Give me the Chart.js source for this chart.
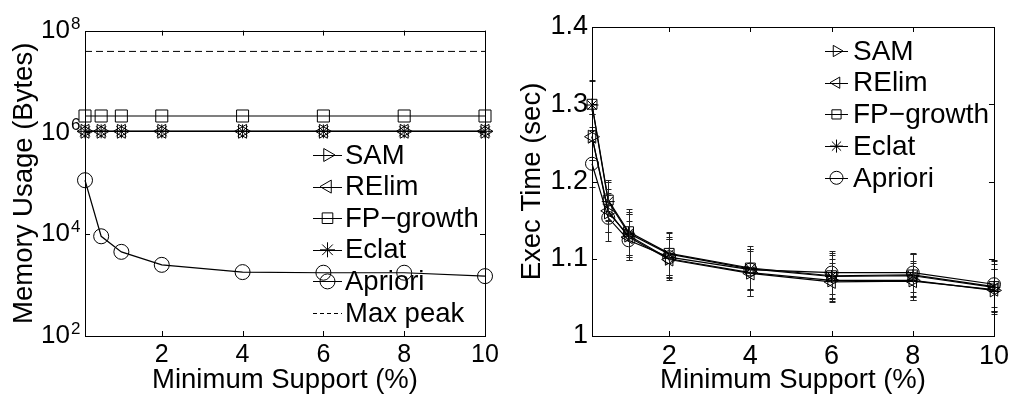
<!DOCTYPE html>
<html>
<head>
<meta charset="utf-8">
<script src="https://cdn.jsdelivr.net/npm/chart.js@4.4.1/dist/chart.umd.min.js"></script>
<style>
html,body{margin:0;padding:0;background:#fff;}
#wrap{position:relative;width:1013px;height:397px;overflow:hidden;}
canvas{position:absolute;top:0;}
</style>
</head>
<body>
<div id="wrap">
<canvas id="mem" width="506" height="397" style="left:0;width:506px;height:397px"></canvas>
<canvas id="time" width="507" height="397" style="left:506px;width:507px;height:397px"></canvas>
</div>
<script>
// ---------- data ----------
const minSupport = [0.1, 0.5, 1, 2, 4, 6, 8, 10];
const seriesNames = ['SAM', 'RElim', 'FP-growth', 'Eclat', 'Apriori'];

// Memory usage (Bytes)
const memSAM      = [1.05e6, 1.05e6, 1.05e6, 1.05e6, 1.05e6, 1.05e6, 1.05e6, 1.05e6];
const memRElim    = [1.05e6, 1.05e6, 1.05e6, 1.05e6, 1.05e6, 1.05e6, 1.05e6, 1.05e6];
const memFPgrowth = [2.1e6, 2.1e6, 2.1e6, 2.1e6, 2.1e6, 2.1e6, 2.1e6, 2.1e6];
const memEclat    = [1.05e6, 1.05e6, 1.05e6, 1.05e6, 1.05e6, 1.05e6, 1.05e6, 1.05e6];
const memApriori  = [1.15e5, 9.1e3, 4.5e3, 2.5e3, 1.8e3, 1.75e3, 1.75e3, 1.5e3];
const maxPeakX    = [0.1, 10];
const maxPeak     = [3.9e7, 3.9e7];

// Execution time (sec)
const timeSAM      = [1.258, 1.160, 1.130, 1.100, 1.082, 1.072, 1.072, 1.059];
const timeRElim    = [1.258, 1.162, 1.128, 1.099, 1.081, 1.070, 1.071, 1.060];
const timeFPgrowth = [1.300, 1.176, 1.135, 1.107, 1.088, 1.078, 1.079, 1.064];
const timeEclat    = [1.299, 1.174, 1.133, 1.106, 1.087, 1.077, 1.078, 1.063];
const timeApriori  = [1.223, 1.153, 1.124, 1.102, 1.086, 1.082, 1.082, 1.067];
const errSAM      = [0.030, 0.025, 0.028, 0.025, 0.030, 0.028, 0.025, 0.028];
const errRElim    = [0.030, 0.028, 0.030, 0.027, 0.029, 0.025, 0.024, 0.027];
const errFPgrowth = [0.030, 0.026, 0.030, 0.028, 0.028, 0.030, 0.027, 0.035];
const errEclat    = [0.032, 0.025, 0.028, 0.027, 0.026, 0.028, 0.028, 0.030];
const errApriori  = [0.030, 0.030, 0.025, 0.026, 0.026, 0.028, 0.025, 0.030];

// ticks
const xTickValues    = [2, 4, 6, 8, 10];
const memTickValues  = [1e2, 1e4, 1e6, 1e8];
const timeTickValues = [1, 1.1, 1.2, 1.3, 1.4];

// ---------- styles ----------
const FONT = '"Liberation Sans", Arial, Helvetica, sans-serif';
const memMarkers = {
  'SAM':       {pointStyle: 'triangle', rotation: 90,  radius: 8},
  'RElim':     {pointStyle: 'triangle', rotation: -90, radius: 8},
  'FP-growth': {pointStyle: 'rect',     rotation: 0,   radius: 8.5},
  'Eclat':     {pointStyle: 'star',     rotation: 0,   radius: 7},
  'Apriori':   {pointStyle: 'circle',   rotation: 0,   radius: 7.5}
};
const timeMarkers = {
  'SAM':       {pointStyle: 'triangle', rotation: 90,  radius: 7.5},
  'RElim':     {pointStyle: 'triangle', rotation: -90, radius: 7.5},
  'FP-growth': {pointStyle: 'rect',     rotation: 0,   radius: 7},
  'Eclat':     {pointStyle: 'star',     rotation: 0,   radius: 6.5},
  'Apriori':   {pointStyle: 'circle',   rotation: 0,   radius: 6.5}
};

function drawMarker(ctx, style, x, y, r) {
  ctx.save();
  ctx.beginPath();
  const rad = (style.rotation || 0) * Math.PI / 180;
  switch (style.pointStyle) {
    case 'triangle': {
      let a = rad;
      ctx.moveTo(x + Math.sin(a) * r, y - Math.cos(a) * r);
      a += 2 * Math.PI / 3;
      ctx.lineTo(x + Math.sin(a) * r, y - Math.cos(a) * r);
      a += 2 * Math.PI / 3;
      ctx.lineTo(x + Math.sin(a) * r, y - Math.cos(a) * r);
      ctx.closePath();
      break;
    }
    case 'rect': {
      const s = Math.SQRT1_2 * r;
      ctx.rect(x - s, y - s, 2 * s, 2 * s);
      break;
    }
    case 'star': {
      for (let k = 0; k < 4; k++) {
        const a = k * Math.PI / 4;
        ctx.moveTo(x + Math.cos(a) * r, y + Math.sin(a) * r);
        ctx.lineTo(x - Math.cos(a) * r, y - Math.sin(a) * r);
      }
      break;
    }
    default:
      ctx.arc(x, y, r, 0, Math.PI * 2);
  }
  ctx.stroke();
  ctx.restore();
}

function seriesDataset(markers, name, values, errs) {
  const st = markers[name];
  return {
    label: name,
    data: minSupport.map((x, i) => ({x: x, y: values[i]})),
    errors: errs,
    borderColor: '#000',
    borderWidth: 1.2,
    pointStyle: st.pointStyle,
    pointRotation: st.rotation,
    pointRadius: st.radius,
    pointHoverRadius: st.radius,
    pointBorderWidth: 1,
    pointBorderColor: '#000',
    pointBackgroundColor: 'rgba(0,0,0,0)',
    tension: 0,
    clip: false
  };
}

// plugin: frame, inward ticks, error bars, legend, superscripts
const decorPlugin = {
  id: 'decor',
  afterDatasetsDraw(chart) {
    const ctx = chart.ctx;
    const xs = chart.scales.x, ys = chart.scales.y;
    chart.data.datasets.forEach(ds => {
      if (!ds.errors) return;
      ctx.save();
      ctx.strokeStyle = '#222';
      ctx.lineWidth = 1;
      ds.data.forEach((p, i) => {
        const e = ds.errors[i];
        const px = Math.round(xs.getPixelForValue(p.x)) + 0.5;
        const yt = Math.round(ys.getPixelForValue(p.y + e)) + 0.5;
        const yb = Math.round(ys.getPixelForValue(p.y - e)) + 0.5;
        ctx.beginPath();
        ctx.moveTo(px, yt); ctx.lineTo(px, yb);
        ctx.moveTo(px - 3, yt); ctx.lineTo(px + 3, yt);
        ctx.moveTo(px - 3, yb); ctx.lineTo(px + 3, yb);
        ctx.stroke();
      });
      ctx.restore();
    });
  },
  afterDraw(chart, args, opts) {
    const ctx = chart.ctx;
    const a = chart.chartArea;
    const xs = chart.scales.x, ys = chart.scales.y;
    ctx.save();
    ctx.strokeStyle = '#000';
    ctx.lineWidth = 1;
    ctx.strokeRect(Math.round(a.left) + 0.5, Math.round(a.top) + 0.5,
                   Math.round(a.right - a.left), Math.round(a.bottom - a.top));
    ctx.beginPath();
    const tl = 5;
    xs.ticks.forEach(t => {
      const px = Math.round(xs.getPixelForValue(t.value)) + 0.5;
      ctx.moveTo(px, a.bottom); ctx.lineTo(px, a.bottom - tl);
      ctx.moveTo(px, a.top); ctx.lineTo(px, a.top + tl);
    });
    ys.ticks.forEach(t => {
      const py = Math.round(ys.getPixelForValue(t.value)) + 0.5;
      ctx.moveTo(a.left, py); ctx.lineTo(a.left + tl, py);
      ctx.moveTo(a.right, py); ctx.lineTo(a.right - tl, py);
    });
    ctx.stroke();

    // superscript exponents on log axis
    if (opts.superscript) {
      const labelRight = ys.right - ys.options.ticks.padding;
      ctx.font = opts.supSize + 'px ' + FONT;
      ctx.fillStyle = '#000';
      ctx.textAlign = 'left';
      ctx.textBaseline = 'alphabetic';
      ys.ticks.forEach(t => {
        const py = ys.getPixelForValue(t.value);
        const exp = String(Math.round(Math.log10(t.value)));
        ctx.fillText(exp, labelRight + 1, py - 2);
      });
    }

    // legend
    const lg = opts.legend;
    ctx.font = lg.fontSize + 'px ' + FONT;
    ctx.fillStyle = '#000';
    ctx.textAlign = 'left';
    ctx.textBaseline = 'middle';
    lg.items.forEach((it, k) => {
      const y = lg.top + k * lg.step;
      ctx.beginPath();
      ctx.setLineDash(it.dash || []);
      ctx.moveTo(lg.x1, Math.round(y) + 0.5);
      ctx.lineTo(lg.x2, Math.round(y) + 0.5);
      ctx.stroke();
      ctx.setLineDash([]);
      if (it.marker) drawMarker(ctx, lg.markers[it.name], (lg.x1 + lg.x2) / 2, y, lg.markerR);
      ctx.fillText(it.label, lg.textX, y + 1);
    });
    ctx.restore();
  }
};

function commonOptions(cfg) {
  return {
    responsive: false,
    animation: false,
    events: [],
    layout: {padding: {top: 27, right: cfg.rightPad, left: 0, bottom: 0}},
    plugins: {
      legend: {display: false},
      tooltip: {enabled: false},
      decor: cfg.decor
    },
    scales: {
      x: {
        type: 'linear',
        min: 0.1, max: 10,
        afterBuildTicks: s => { s.ticks = xTickValues.map(v => ({value: v})); },
        afterFit: s => { s.height = 61; },
        grid: {display: false, drawTicks: false},
        border: {display: false},
        ticks: {
          color: '#000',
          padding: cfg.xTickPad,
          maxRotation: 0,
          autoSkip: false,
          font: {family: FONT, size: cfg.tickSize},
          callback: v => String(v)
        },
        title: {
          display: true,
          text: 'Minimum Support (%)',
          color: '#000',
          font: {family: FONT, size: cfg.titleSize},
          padding: {top: 0, bottom: cfg.xTitlePad}
        }
      },
      y: cfg.y
    }
  };
}

// ---------- memory chart ----------
const memDatasets = [
  seriesDataset(memMarkers, 'SAM', memSAM),
  seriesDataset(memMarkers, 'RElim', memRElim),
  seriesDataset(memMarkers, 'FP-growth', memFPgrowth),
  seriesDataset(memMarkers, 'Eclat', memEclat),
  seriesDataset(memMarkers, 'Apriori', memApriori),
  {
    label: 'Max peak',
    data: maxPeakX.map((x, i) => ({x: x, y: maxPeak[i]})),
    borderColor: '#000',
    borderWidth: 1,
    borderDash: [7, 4],
    pointRadius: 0,
    tension: 0,
    clip: false
  }
];

new Chart(document.getElementById('mem'), {
  type: 'line',
  data: {datasets: memDatasets},
  plugins: [decorPlugin],
  options: commonOptions({
    rightPad: 21,
    tickSize: 25,
    titleSize: 27.5,
    xTickPad: 4,
    xTitlePad: 0,
    decor: {
      superscript: true,
      supSize: 17,
      legend: {
        x1: 313, x2: 342, textX: 345, top: 155, step: 31.6, fontSize: 27.5, markerR: 7.5,
        markers: memMarkers,
        items: [
          {name: 'SAM', label: 'SAM', marker: true},
          {name: 'RElim', label: 'RElim', marker: true},
          {name: 'FP-growth', label: 'FP\u2212growth', marker: true},
          {name: 'Eclat', label: 'Eclat', marker: true},
          {name: 'Apriori', label: 'Apriori', marker: true},
          {name: 'Max peak', label: 'Max peak', marker: false, dash: [4, 3]}
        ]
      }
    },
    y: {
      type: 'logarithmic',
      min: 1e2, max: 1e8,
      afterBuildTicks: s => { s.ticks = memTickValues.map(v => ({value: v})); },
      afterFit: s => { s.width = 85; },
      grid: {display: false, drawTicks: false},
      border: {display: false},
      ticks: {
        color: '#000',
        padding: 15,
        autoSkip: false,
        font: {family: FONT, size: 26},
        callback: () => '10'
      },
      title: {
        display: true,
        text: 'Memory Usage (Bytes)',
        color: '#000',
        font: {family: FONT, size: 27.5},
        padding: {top: 8, bottom: 0}
      }
    }
  })
});

// ---------- time chart ----------
const timeDatasets = [
  seriesDataset(timeMarkers, 'SAM', timeSAM, errSAM),
  seriesDataset(timeMarkers, 'RElim', timeRElim, errRElim),
  seriesDataset(timeMarkers, 'FP-growth', timeFPgrowth, errFPgrowth),
  seriesDataset(timeMarkers, 'Eclat', timeEclat, errEclat),
  seriesDataset(timeMarkers, 'Apriori', timeApriori, errApriori)
];

new Chart(document.getElementById('time'), {
  type: 'line',
  data: {datasets: timeDatasets},
  plugins: [decorPlugin],
  options: commonOptions({
    rightPad: 17,
    tickSize: 27,
    titleSize: 27.5,
    xTickPad: 4,
    xTitlePad: 0,
    decor: {
      superscript: false,
      legend: {
        x1: 319, x2: 342, textX: 347, top: 51, step: 31.7, fontSize: 28, markerR: 6.5,
        markers: timeMarkers,
        items: [
          {name: 'SAM', label: 'SAM', marker: true},
          {name: 'RElim', label: 'RElim', marker: true},
          {name: 'FP-growth', label: 'FP\u2212growth', marker: true},
          {name: 'Eclat', label: 'Eclat', marker: true},
          {name: 'Apriori', label: 'Apriori', marker: true}
        ]
      }
    },
    y: {
      type: 'linear',
      min: 1, max: 1.4,
      afterBuildTicks: s => { s.ticks = timeTickValues.map(v => ({value: v})); },
      afterFit: s => { s.width = 86; },
      grid: {display: false, drawTicks: false},
      border: {display: false},
      ticks: {
        color: '#000',
        padding: 4,
        autoSkip: false,
        font: {family: FONT, size: 27},
        callback: v => String(+Number(v).toFixed(2))
      },
      title: {
        display: true,
        text: 'Exec Time (sec)',
        color: '#000',
        font: {family: FONT, size: 27.5},
        padding: {top: 10, bottom: 0}
      }
    }
  })
});
</script>
</body>
</html>
